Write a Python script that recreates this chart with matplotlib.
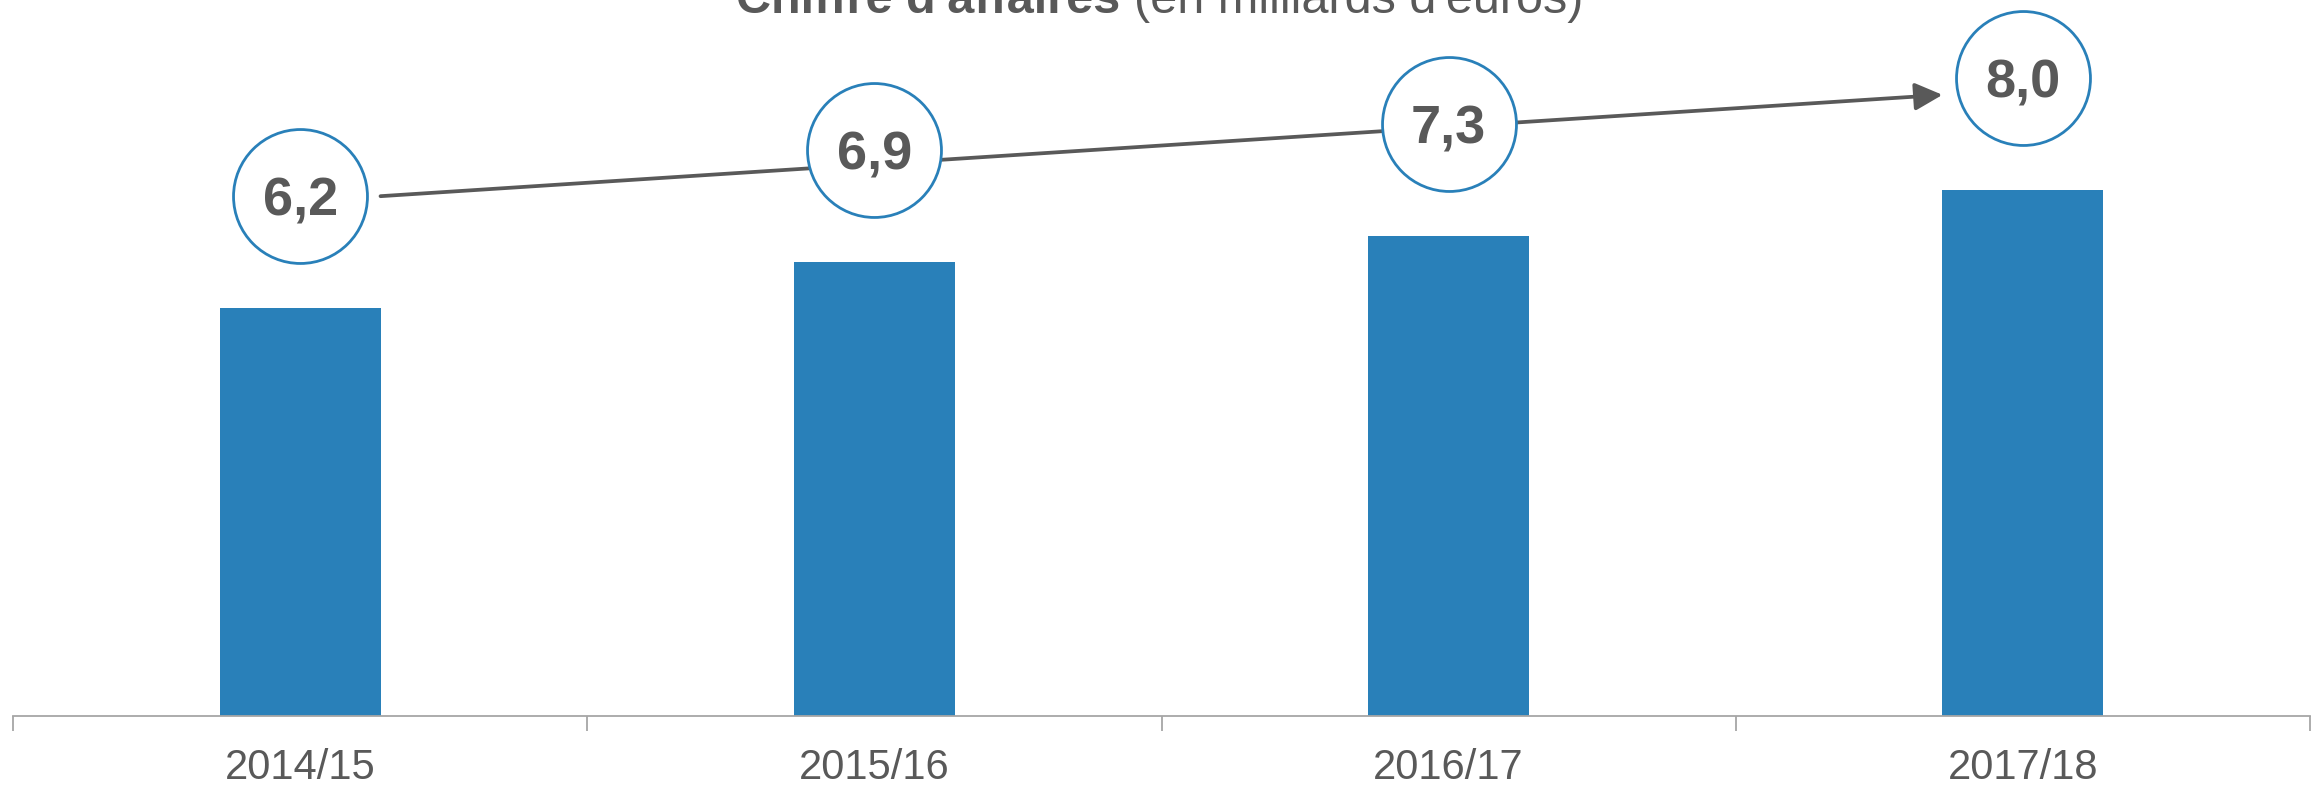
import matplotlib
matplotlib.use('Agg')
import matplotlib.pyplot as plt

# data
categories = ['2014/15', '2015/16', '2016/17', '2017/18']
values = [6.2, 6.9, 7.3, 8.0]
labels = ['6,2', '6,9', '7,3', '8,0']

BLUE = '#2980B9'
GREY = '#595959'

plt.rcParams['font.family'] = ['Liberation Sans', 'DejaVu Sans']

fig = plt.figure(figsize=(23.2, 7.86), dpi=100)
ax = fig.add_axes([13 / 2320, 70 / 786, 2297 / 2320, 716 / 786])

x = list(range(len(categories)))
bar_w = 0.28
ax.bar(x, values, width=bar_w, color=BLUE, zorder=2)

# bubbles above the bars
offset = 1.7
circle_y = [v + offset for v in values]

# growth arrow behind the bubbles
ax.annotate('', xy=(x[-1] - bar_w / 2, circle_y[-1] - 0.26),
            xytext=(x[0] + bar_w / 2, circle_y[0]),
            arrowprops=dict(arrowstyle='-|>', color=GREY, lw=2.7,
                            mutation_scale=42, shrinkA=0, shrinkB=0),
            zorder=3)

ax.scatter(x, circle_y, s=9300, facecolor='white', edgecolor=BLUE,
           linewidth=2.0, zorder=4, clip_on=False)
for xi, yi, lab in zip(x, circle_y, labels):
    ax.text(xi, yi, lab, ha='center', va='center_baseline', fontsize=39,
            fontweight='bold', color=GREY, zorder=5)

ax.set_xlim(-0.5, len(categories) - 0.5)
ax.set_ylim(0, 716 / 65.8)

for s in ['top', 'right', 'left']:
    ax.spines[s].set_visible(False)
ax.spines['bottom'].set_color('#A6A6A6')
ax.spines['bottom'].set_linewidth(1.3)
ax.set_yticks([])
ax.set_xticks(x)
ax.set_xticklabels(categories, fontsize=30, color=GREY)
ax.tick_params(axis='x', which='major', length=0, pad=23)
ax.set_xticks([i - 0.5 for i in range(len(categories) + 1)], minor=True)
ax.tick_params(axis='x', which='minor', length=11, width=1.3, color='#A6A6A6')

# title: bold part + normal part, centred together (cut at the top like the original)
ty = 1 - 13 / 786
t1 = fig.text(0, ty, "Chiffre d'affaires ", fontsize=35, fontweight='bold',
              color=GREY, va='baseline', ha='left')
t2 = fig.text(0, ty, "(en milliards d'euros)", fontsize=35, color=GREY,
              va='baseline', ha='left')
r = fig.canvas.get_renderer()
w1 = t1.get_window_extent(r).width / fig.bbox.width
w2 = t2.get_window_extent(r).width / fig.bbox.width
x0 = 0.5 - (w1 + w2) / 2
t1.set_x(x0)
t2.set_x(x0 + w1)

fig.savefig('out.png', dpi=100)
